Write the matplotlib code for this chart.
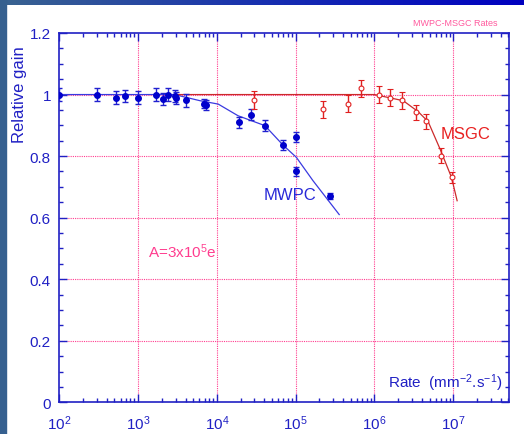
import numpy as np
import matplotlib
matplotlib.use('Agg')
import matplotlib.pyplot as plt
from matplotlib.colors import LinearSegmentedColormap
from matplotlib.patches import Rectangle
from matplotlib.ticker import LogLocator, MultipleLocator, FuncFormatter


plt.rcParams['font.family'] = ['Liberation Sans', 'DejaVu Sans']
plt.rcParams['mathtext.fontset'] = 'custom'
plt.rcParams['mathtext.rm'] = 'Liberation Sans'
plt.rcParams['mathtext.it'] = 'Liberation Sans:italic'

# MWPC measurements (filled points)
mwpc_rate = [100, 300, 520, 690, 990, 1700, 2070, 2380, 2900, 3000, 4040,
             6860, 7350, 18900, 26900, 41200, 69000, 100000, 100000, 275000]
mwpc_gain = [1.0, 1.0, 0.99, 0.995, 0.99, 1.0, 0.985, 1.0, 0.996, 0.989, 0.981,
             0.970, 0.966, 0.91, 0.935, 0.898, 0.836, 0.862, 0.751, 0.669]
mwpc_err = [0.02, 0.02, 0.02, 0.02, 0.02, 0.02, 0.02, 0.02, 0.02, 0.02, 0.02,
            0.015, 0.015, 0.018, 0.018, 0.018, 0.015, 0.015, 0.015, 0.01]

# MSGC measurements (open points)
msgc_rate = [30000, 222000, 457000, 677000, 1.13e6, 1.58e6, 2.25e6, 3.39e6,
             4.54e6, 7.05e6, 9.55e6]
msgc_gain = [0.982, 0.952, 0.97, 1.02, 1.0, 0.99, 0.981, 0.942, 0.913, 0.801, 0.731]
msgc_err = [0.028, 0.028, 0.028, 0.028, 0.028, 0.028, 0.028, 0.024, 0.024, 0.024, 0.018]

# fitted curves
mwpc_fit_rate = [100, 2900, 4200, 6100, 10400, 18600, 40700, 69000, 102000, 166000, 357000]
mwpc_fit_gain = [1.0, 1.0, 0.99, 0.98, 0.969, 0.931, 0.899, 0.836, 0.796, 0.72, 0.61]
msgc_fit_rate = [2900, 1.0e6, 1.66e6, 2.32e6, 3.6e6, 4.8e6, 6.8e6, 9.5e6, 1.12e7]
msgc_fit_gain = [1.0, 1.0, 0.988, 0.98, 0.944, 0.912, 0.823, 0.731, 0.655]

AXIS_BLUE = '#2020c4'
PINK = '#ff3d8f'


def draw_frame(fig):
  # slate/blue slide border on the left and top
  fig.patches.append(Rectangle((0, 0), 6 / 524, 1, transform=fig.transFigure,
                               color='#36608f', zorder=0))
  top = fig.add_axes([0, 1 - 6 / 435, 1, 6 / 435])
  cmap = LinearSegmentedColormap.from_list('strip', ['#3a6490', '#1830b0', '#0000c0'])
  top.imshow(np.linspace(0, 1, 256)[None, :], aspect='auto', cmap=cmap, extent=[0, 1, 0, 1])
  top.axis('off')


def main():
  fig = plt.figure(figsize=(5.24, 4.35), dpi=100)
  draw_frame(fig)
  ax = fig.add_axes([59.3 / 524, 1 - 403.3 / 435, (509 - 59.3) / 524, (403.3 - 34) / 435])

  ax.set_xscale('log')
  ax.set_xlim(100, 5.1e7)
  ax.set_ylim(0, 1.2)

  # grid
  for xv in [1e3, 1e4, 1e5, 1e6, 1e7]:
    ax.axvline(xv, color=PINK, lw=0.8, ls=(0, (1, 1)), zorder=1)
  for yv in [0.2, 0.4, 0.6, 0.8, 1.0]:
    ax.axhline(yv, color=PINK, lw=0.8, ls=(0, (1, 1)), zorder=1)

  ax.plot(mwpc_fit_rate, mwpc_fit_gain, color='#3a3ae0', lw=0.9, zorder=2)
  ax.plot(msgc_fit_rate, msgc_fit_gain, color='#cc2a2a', lw=0.9, zorder=2)

  ax.errorbar(mwpc_rate, mwpc_gain, yerr=mwpc_err, fmt='o', ms=4, color='#0000cc',
              ecolor='#2020d0', elinewidth=1, capsize=2.5, capthick=1, zorder=3)
  ax.errorbar(msgc_rate, msgc_gain, yerr=msgc_err, fmt='o', ms=3.5, mfc='white',
              mec='#e02020', mew=0.8, color='#e02020', ecolor='#e02020',
              elinewidth=1, capsize=2.5, capthick=1, zorder=3)

  # ticks
  ax.xaxis.set_major_locator(LogLocator(base=10, numticks=10))
  ax.xaxis.set_minor_locator(LogLocator(base=10, subs=np.arange(2, 10), numticks=20))
  ax.yaxis.set_major_locator(MultipleLocator(0.2))
  ax.yaxis.set_minor_locator(MultipleLocator(0.05))
  ax.yaxis.set_major_formatter(FuncFormatter(lambda v, p: '%g' % round(v, 2)))
  ax.tick_params(which='both', direction='in', top=True, right=True, color=AXIS_BLUE,
                 labelcolor=AXIS_BLUE, labelsize=11)
  ax.tick_params(which='major', length=6, width=1)
  ax.tick_params(which='minor', length=3, width=1)
  ax.tick_params(axis='y', pad=6)
  ax.tick_params(axis='x', pad=8)
  for sp in ax.spines.values():
    sp.set_color(AXIS_BLUE)
    sp.set_linewidth(1.2)

  ax.set_ylabel('Relative gain', color=AXIS_BLUE, fontsize=12)
  ax.yaxis.set_label_coords(-0.072, 0.837)

  ax.text(0.985, 0.055, r'Rate  (mm$^{-2}$.s$^{-1}$)', transform=ax.transAxes,
          color=AXIS_BLUE, fontsize=11, ha='right', va='center')
  ax.text(0.513, 0.564, 'MWPC', transform=ax.transAxes, ha='center', va='center',
          color='#2828d8', fontsize=12)
  ax.text(0.904, 0.729, 'MSGC', transform=ax.transAxes, ha='center', va='center',
          color='#e82020', fontsize=12)
  ax.text(0.273, 0.41, r'A=3x10$^{5}$e', transform=ax.transAxes, ha='center', va='center',
          color=PINK, fontsize=11)
  fig.text(0.95, 1 - 24 / 435, 'MWPC-MSGC Rates', ha='right', va='center',
           color='#ff5a9e', fontsize=6.5)

  fig.savefig('out.png', dpi=100)


if __name__ == '__main__':
  main()
